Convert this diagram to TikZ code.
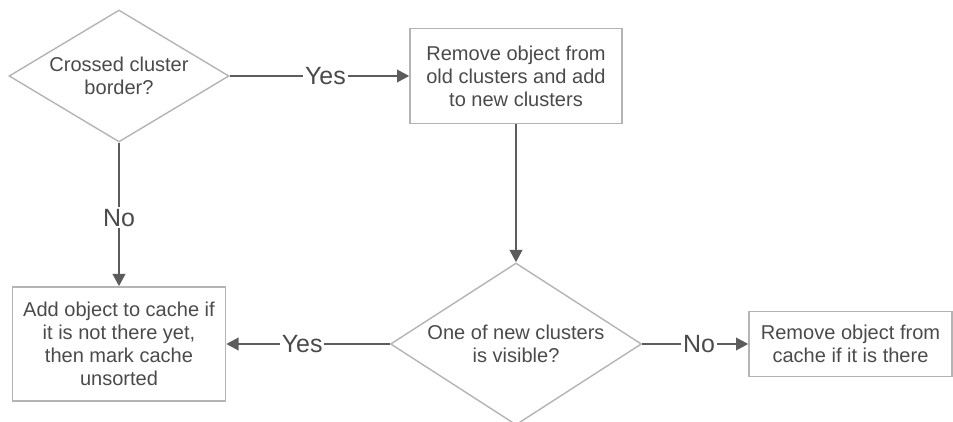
\documentclass[tikz,border=0pt]{standalone}
\usepackage{fontspec}
\setmainfont{Liberation Sans}
\usepackage{tikz}
\usetikzlibrary{arrows.meta,shapes.geometric,positioning}
\definecolor{edgegray}{HTML}{B4B4B4}
\definecolor{linegray}{HTML}{5C5C5C}
\definecolor{textgray}{HTML}{4A4A4A}

\begin{document}
\begin{tikzpicture}[
  txt/.style={font=\fontsize{11.4}{13.1}\selectfont,text=textgray,align=center},
  decision/.style={txt,diamond,draw=edgegray,line width=0.8pt,inner sep=0pt,aspect=1.667},
  action/.style={txt,rectangle,draw=edgegray,line width=0.8pt,inner sep=0pt},
  flow/.style={draw=linegray,line width=1.5pt,-{Triangle[length=7pt,width=7pt]}},
  answer/.style={fill=white,inner sep=1pt,text=textgray,font=\fontsize{14.2}{16}\selectfont}]
\useasboundingbox (0,0) rectangle (19.06,-8.44);
% decisions
\node[decision,minimum width=4.4cm,minimum height=2.64cm] (crossed) at (2.38,-1.52) {Crossed cluster\\border?};
\node[decision,minimum width=5.02cm,minimum height=3.24cm] (visible) at (10.32,-6.88) {One of new clusters\\is visible?};
% actions
\node[action,minimum width=4.24cm,minimum height=1.9cm] (move) at (10.32,-1.52) {Remove object from\\old clusters and add\\to new clusters};
\node[action,minimum width=4.26cm,minimum height=2.28cm] (add) at (2.38,-6.88) {Add object to cache if\\it is not there yet,\\then mark cache\\unsorted};
\node[action,minimum width=4.06cm,minimum height=1.3cm] (drop) at (17.01,-6.88) {Remove object from\\cache if it is there};
% connectors
\draw[flow] (crossed.east) -- node[answer,pos=0.533] {Yes} (move.west);
\draw[flow] (crossed.south) -- node[answer,pos=0.524] {No} (add.north);
\draw[flow] (move.south) -- (visible.north);
\draw[flow] (visible.west) -- node[answer,pos=0.536] {Yes} (add.east);
\draw[flow] (visible.east) -- node[answer,pos=0.535] {No} (drop.west);
\end{tikzpicture}
\end{document}
